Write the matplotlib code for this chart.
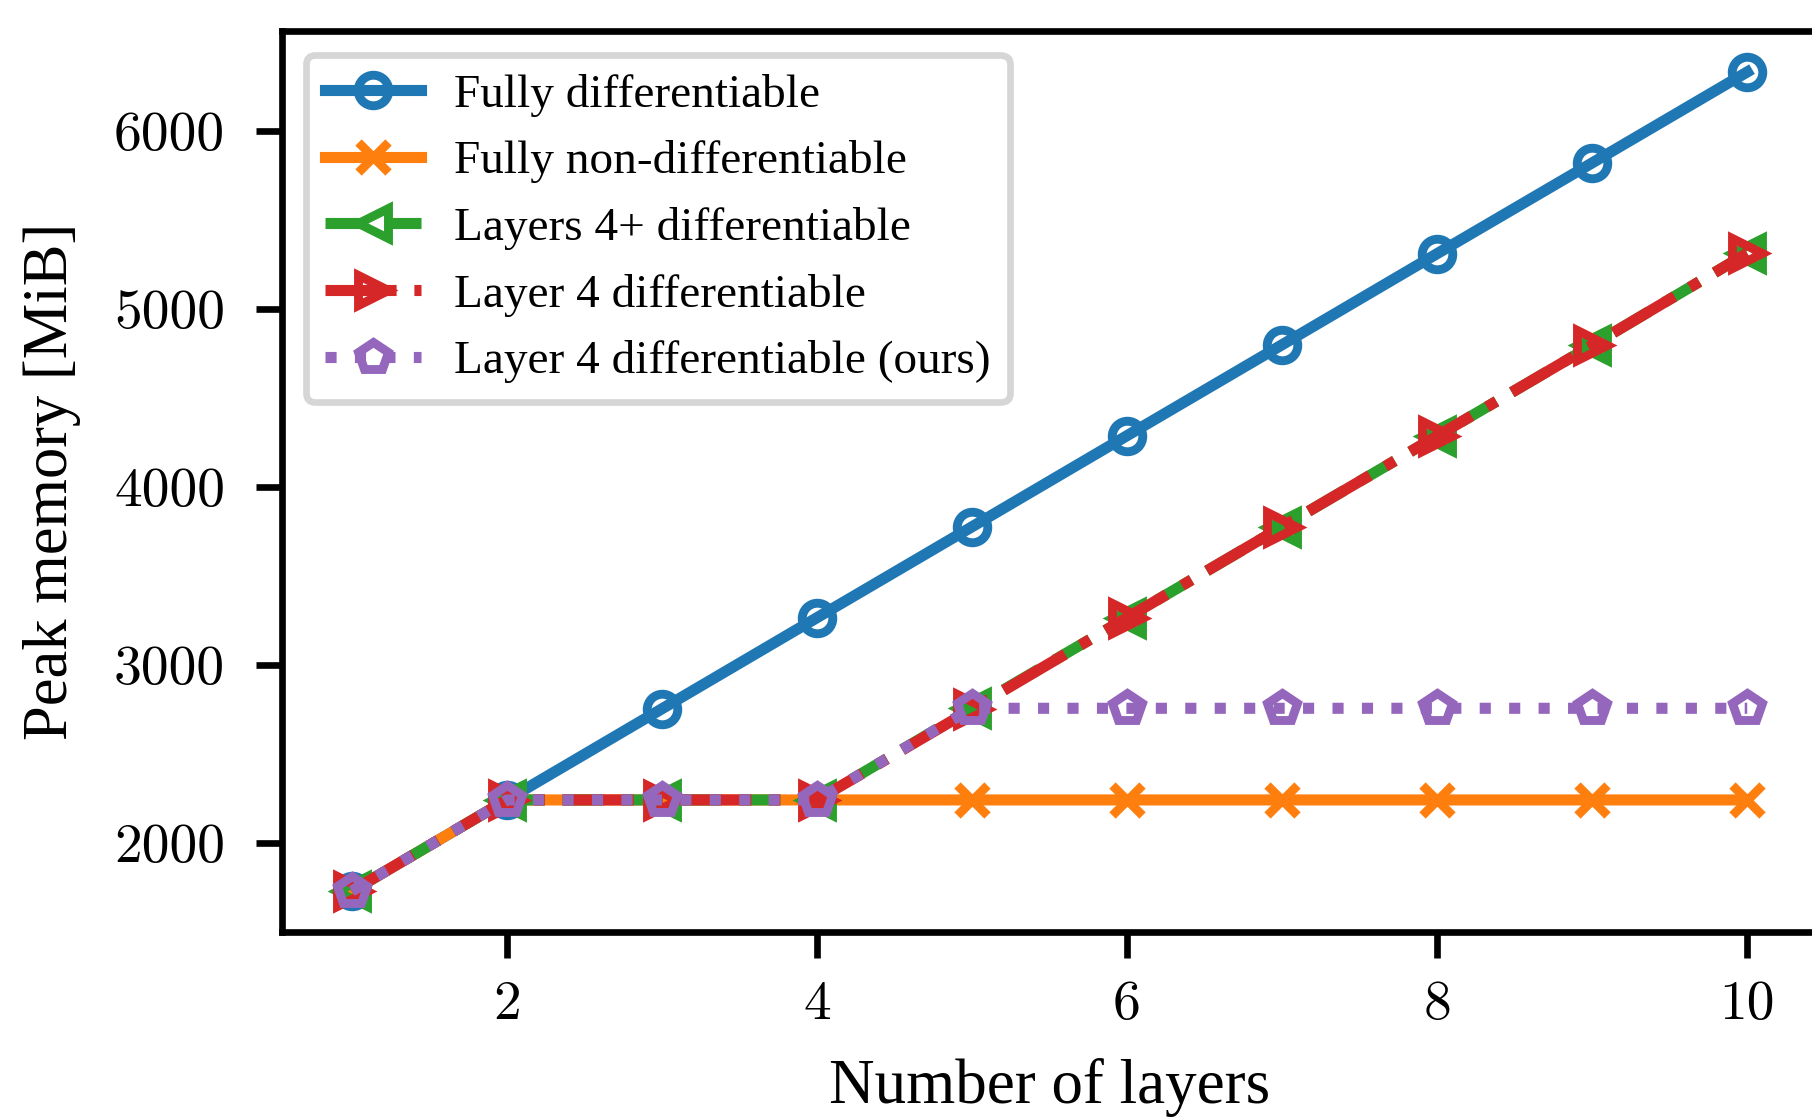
import matplotlib
matplotlib.use("Agg")
import matplotlib.pyplot as plt

layers = [1, 2, 3, 4, 5, 6, 7, 8, 9, 10]
fully_diff = [1728, 2240, 2752, 3264, 3775, 4287, 4798, 5310, 5820, 6331]
fully_nondiff = [1728, 2240, 2240, 2240, 2240, 2240, 2240, 2240, 2240, 2240]
layers4plus = [1728, 2240, 2240, 2240, 2755, 3264, 3775, 4285, 4795, 5312]
layer4 = [1728, 2240, 2240, 2240, 2750, 3264, 3775, 4285, 4795, 5312]
layer4_ours = [1728, 2240, 2240, 2240, 2755, 2755, 2755, 2755, 2755, 2755]

labels = ["Fully differentiable", "Fully non-differentiable",
          "Layers 4+ differentiable", "Layer 4 differentiable",
          "Layer 4 differentiable (ours)"]

plt.rcParams['font.family'] = ['Liberation Serif', 'DejaVu Serif']
plt.rcParams['axes.linewidth'] = 2.4

W, H = 1812, 1120
dpi = 200
fig = plt.figure(figsize=(W / dpi, H / dpi), dpi=dpi)
ax = fig.add_axes([282 / W, (H - 932) / H, (1817 - 282) / W, (932 - 31) / H])

lw, ms, mew = 4.0, 11, 3.2
ax.plot(layers, fully_diff, color='C0', ls='-', marker='o', mfc='none',
        lw=lw, ms=ms, mew=mew, label=labels[0])
ax.plot(layers, fully_nondiff, color='C1', ls='-', marker='x',
        lw=lw, ms=ms, mew=mew, label=labels[1])
ax.plot(layers, layers4plus, color='C2', ls='--', marker='<', mfc='none',
        lw=lw, ms=ms, mew=mew, label=labels[2])
ax.plot(layers, layer4, color='C3', ls='-.', marker='>', mfc='none',
        lw=lw, ms=ms, mew=mew, label=labels[3])
ax.plot(layers, layer4_ours, color='C4', ls=':', marker='p', mfc='none',
        lw=lw, ms=ms, mew=mew, label=labels[4])

ax.set_xticks([2, 4, 6, 8, 10])
ax.set_yticks([2000, 3000, 4000, 5000, 6000])
ax.tick_params(axis='both', which='major', length=9.5, width=2.4,
               labelsize=20, labelfontfamily='cmr10')
ax.tick_params(axis='x', pad=8)
ax.tick_params(axis='y', pad=11)

ax.set_xlabel("Number of layers", fontsize=22.7, labelpad=10)
ax.set_ylabel("Peak memory [MiB]", fontsize=22.5, labelpad=12)

leg = ax.legend(loc='upper left', fontsize=17, handlelength=2.05,
                handletextpad=0.7, labelspacing=0.5, fancybox=True,
                framealpha=1.0, edgecolor='0.84')
leg.get_frame().set_linewidth(2.4)

fig.savefig("out.png", dpi=dpi)
